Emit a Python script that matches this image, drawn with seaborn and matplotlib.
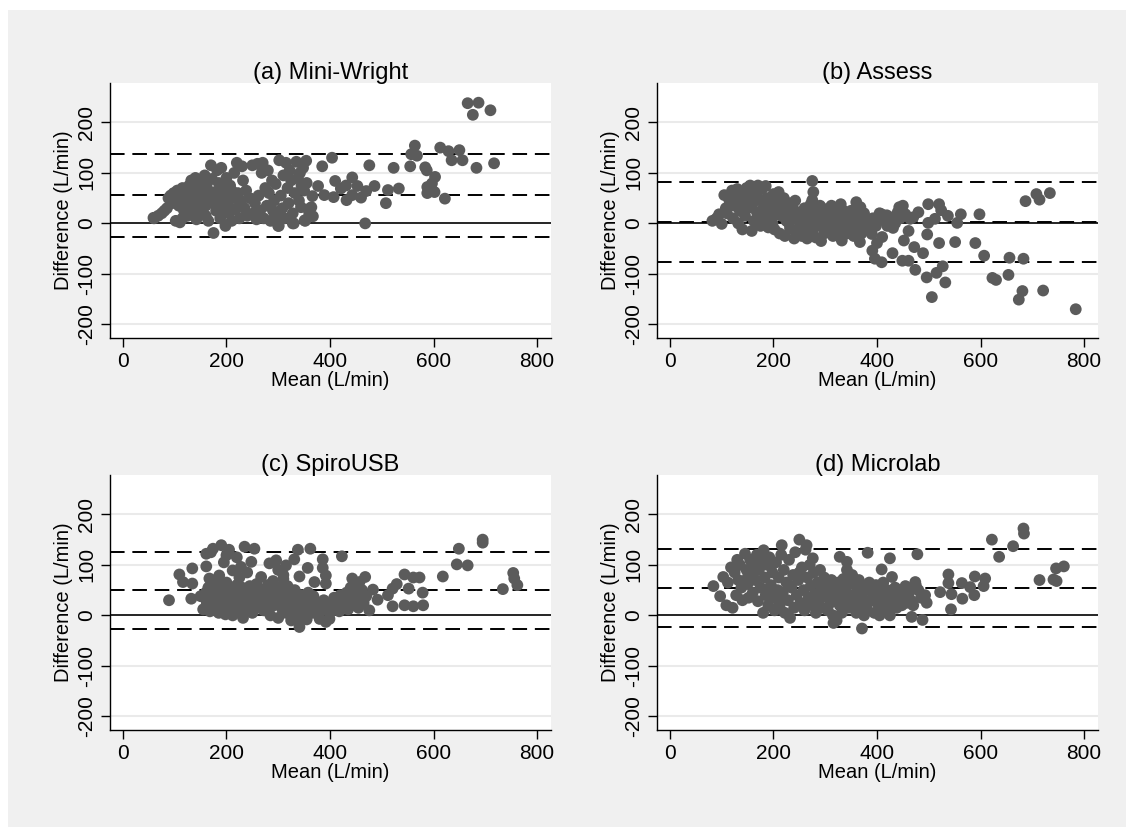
import pandas as pd
import seaborn as sns
import matplotlib
matplotlib.use('Agg')
from matplotlib import pyplot as plt
from matplotlib.patches import Rectangle

titles = ['(a) Mini-Wright', '(b) Assess', '(c) SpiroUSB', '(d) Microlab']

# (mean, difference) pairs
pts_a = [(60, 10), (68, 15), (75, 20), (80, 25), (85, 30), (88, 50), (92, 55), (95, 40), (98, 60), (100, 45),
         (102, 5), (105, 65), (108, 35), (110, 2), (112, 55), (115, 70), (118, 25), (120, 48), (122, 60), (125, 15),
         (128, 75), (130, 40), (132, 85), (135, 55), (138, 30), (140, 90), (142, 8), (145, 65), (148, 45), (150, 80),
         (152, 20), (155, 58), (158, 95), (160, 35), (162, 72), (165, 5), (168, 50), (170, 115), (172, 88), (175, -19),
         (176, 40), (178, 62), (180, 25), (182, 105), (185, 80), (186, 45), (188, 10), (190, 110), (192, 30), (195, 70),
         (197, 55), (198, -5), (200, 90), (202, 35), (205, 20), (207, 75), (210, 5), (212, 50), (215, 100), (218, 28),
         (220, 120), (222, 60), (225, 10), (228, 45), (230, 113), (232, 85), (235, 30), (238, 65), (240, 15), (245, 50),
         (250, 115), (252, 20), (255, 40), (258, 8), (260, 118), (262, 55), (265, 25), (268, 100), (270, 120), (272, 10),
         (275, 70), (278, 35), (280, 105), (282, 60), (285, 5), (288, 85), (290, 25), (292, 45), (295, 78), (298, 15),
         (300, -5), (302, 125), (305, 55), (308, 30), (310, 95), (312, 10), (315, 120), (318, 70), (320, 40), (322, 105),
         (325, 85), (328, 20), (330, 0), (332, 60), (335, 122), (338, 90), (340, 45), (342, 100), (345, 75), (348, 110),
         (350, 65), (352, 5), (355, 80), (358, 28), (360, 18), (130, 20), (145, 30), (160, 15), (175, 60), (185, 25),
         (120, 35), (135, 70), (150, 50), (165, 85), (195, 45), (210, 65), (225, 35), (115, 10), (140, 45), (190, 60),
         (666, 238), (687, 239), (676, 215), (710, 224), (564, 154), (557, 137), (568, 134), (555, 113), (613, 150),
         (629, 143), (650, 145), (635, 125), (656, 125), (683, 110), (717, 119), (584, 111), (587, 105), (603, 92),
         (597, 79), (588, 72), (588, 60), (602, 62), (622, 49), (523, 110), (533, 69), (512, 66), (508, 40), (476, 115),
         (486, 74), (470, 64), (460, 51), (468, 0), (443, 91), (431, 75), (453, 74), (432, 46), (443, 56), (404, 130),
         (385, 113), (377, 74), (389, 56), (410, 84), (407, 52), (421, 69), (366, 54), (354, 124), (367, 14), (351, 6),
         (344, 32), (364, 32), (328, 0), (301, -5), (59, 11)]

pts_b = [(82, 5), (90, 10), (95, 18), (100, -1), (105, 56), (108, 30), (110, 20), (115, 45), (120, 65), (122, 10),
         (125, 35), (128, 55), (130, 68), (132, 0), (135, 25), (138, 62), (140, -12), (142, 45), (145, 15), (148, 70),
         (150, 30), (152, 55), (155, 75), (158, -15), (160, 40), (162, 5), (165, 60), (168, 22), (170, 75), (172, 48),
         (175, -5), (178, 68), (180, 30), (182, 10), (185, 74), (188, 50), (190, -8), (192, 20), (195, 38), (198, 0),
         (200, 58), (202, -12), (205, 28), (208, 45), (210, 62), (212, -20), (215, 15), (218, 35), (220, 50), (222, -25),
         (225, 5), (228, 25), (230, 40), (232, -10), (235, 15), (238, 30), (240, -30), (242, 45), (245, 8), (248, -18),
         (250, 20), (252, 2), (255, -25), (258, 12), (260, 30), (262, -8), (265, -30), (268, 18), (270, 0), (272, 38),
         (275, -15), (278, 25), (280, 8), (282, -28), (285, 15), (288, -5), (290, 35), (292, -35), (295, 10), (298, -20),
         (300, 28), (302, 0), (305, -12), (308, 20), (310, 5), (312, 35), (315, -25), (318, 12), (320, -5), (322, 30),
         (325, 15), (328, -15), (330, 38), (332, 5), (335, 25), (338, -8), (340, 12), (342, -20), (345, 0), (348, 20),
         (350, -12), (352, 8), (355, -25), (358, 28), (362, -5), (365, 15), (370, -20), (372, 2), (375, 20), (378, -10),
         (385, 5), (388, -15), (392, 10), (398, -5), (402, 12), (405, 20), (415, 5), (420, -5), (425, 12), (435, 0),
         (440, 22), (445, 10), (450, 35), (455, 18), (470, 12), (118, 50), (135, 40), (160, 65), (185, 35), (210, 20),
         (230, 0), (250, -10), (270, 15), (290, 20), (310, -15), (330, 10), (350, 25), (240, 10), (200, 15), (170, 5),
         (784, -170), (734, 60), (708, 58), (714, 47), (687, 44), (683, -70), (656, -68), (654, -102), (681, -134),
         (674, -151), (721, -133), (623, -108), (630, -112), (607, -64), (590, -39), (598, 18), (562, 18), (555, 1),
         (551, -37), (537, 15), (520, 38), (524, 26), (512, 9), (499, 38), (499, 1), (497, -22), (520, -39), (527, -85),
         (515, -98), (532, -117), (506, -146), (496, -107), (489, -59), (480, 22), (472, -47), (474, -92), (461, -74),
         (449, -74), (452, -34), (461, -15), (464, 9), (443, 32), (430, -59), (431, -9), (410, -27), (409, -77),
         (396, -70), (391, -54), (400, -39), (390, -21), (409, 18), (419, 16), (380, 7), (367, -37), (360, 42),
         (368, 32), (332, -34), (275, 84), (277, 62), (275, 46)]

pts_c = [(150, 38), (155, 12), (160, 45), (162, 25), (165, 55), (168, 8), (170, 70), (172, 35), (175, 15), (178, 50),
         (180, 28), (182, 62), (185, 5), (188, 40), (190, 20), (192, 55), (195, 32), (198, 2), (200, 65), (202, 45),
         (205, 15), (208, 30), (210, 52), (212, 0), (215, 38), (218, 22), (220, 60), (222, 8), (225, 42), (228, 25),
         (230, 55), (232, -5), (235, 30), (238, 48), (240, 12), (242, 35), (245, 58), (248, 20), (250, 5), (252, 40),
         (255, 28), (258, 62), (260, 15), (262, 45), (265, 30), (268, 22), (270, 50), (272, 10), (275, 38), (278, 25),
         (280, 60), (282, 15), (285, 0), (288, 42), (290, 68), (292, 20), (295, 35), (298, 55), (300, -5), (302, 28),
         (305, 45), (308, 12), (310, 72), (312, 32), (315, 5), (318, 58), (320, 22), (322, 40), (325, -10), (328, 15),
         (330, 35), (332, 50), (335, 0), (338, 25), (340, -15), (342, 10), (345, 40), (348, -5), (350, 20), (352, 30),
         (355, -8), (358, 45), (360, 12), (362, 28), (365, 5), (368, 38), (372, 15), (375, 25), (378, 0), (382, 18),
         (388, 30), (395, 10), (400, 5), (405, 22), (408, 35), (412, 15), (415, 28), (418, 8), (420, 40), (425, 18),
         (428, 30), (432, 45), (435, 12), (438, 25), (440, 55), (442, 35), (445, 60), (448, 20), (452, 42), (455, 15),
         (458, 30), (462, 50), (465, 25), (470, 38), (161, 122), (174, 132), (190, 139), (200, 119), (235, 136),
         (254, 132), (248, 106), (228, 96), (212, 89), (283, 103), (296, 109), (315, 99), (267, 76), (167, 73),
         (186, 79), (161, 97), (170, 125), (195, 105), (220, 115), (240, 85), (205, 130), (225, 75), (300, 90),
         (310, 80), (89, 30), (109, 81), (116, 66), (134, 93), (134, 63), (132, 33), (695, 150), (695, 144), (649, 132),
         (645, 101), (666, 99), (618, 77), (734, 52), (754, 84), (756, 73), (762, 60), (544, 81), (561, 75), (573, 75),
         (579, 45), (552, 53), (580, 20), (561, 18), (544, 20), (521, 18), (529, 62), (521, 53), (512, 40), (492, 31),
         (483, 51), (468, 76), (476, 10), (443, 73), (457, 66), (423, 117), (422, 20), (362, 132), (338, 130),
         (331, 111), (386, 111), (386, 94), (392, 79), (370, 66), (392, 63), (341, 77), (357, 94), (341, -23),
         (392, -13), (399, -7), (380, -7)]

pts_d = [(84, 58), (97, 38), (103, 76), (109, 20), (112, 65), (118, 95), (121, 15), (125, 85), (128, 40), (132, 70),
         (135, 100), (138, 55), (140, 30), (145, 122), (148, 90), (150, 62), (152, 35), (155, 110), (158, 80), (160, 45),
         (162, 100), (165, 70), (168, 120), (170, 28), (172, 90), (175, 55), (178, 110), (180, 5), (181, 129), (183, 75),
         (185, 40), (188, 100), (190, 20), (192, 115), (195, 60), (198, 85), (200, 35), (202, 10), (205, 105), (208, 50),
         (210, 75), (212, 20), (215, 120), (216, 139), (218, 45), (220, 90), (222, 5), (225, 65), (228, 30), (230, 110),
         (232, -5), (235, 55), (238, 80), (240, 15), (242, 125), (245, 40), (248, 70), (250, 150), (252, 25), (255, 95),
         (258, 50), (260, 10), (262, 130), (264, 139), (265, 75), (268, 35), (270, 100), (272, 58), (275, 20), (276, 113),
         (278, 85), (280, 42), (282, 5), (285, 65), (288, 30), (290, 90), (292, 50), (295, 15), (298, 75), (300, 38),
         (302, 60), (305, 10), (308, 48), (310, 25), (312, 70), (315, 0), (318, 55), (320, 35), (322, -10), (325, 65),
         (328, 20), (330, 45), (332, 5), (335, 72), (338, 30), (340, 55), (342, 90), (345, 15), (348, 65), (350, 40),
         (352, 80), (355, 25), (358, 60), (360, 5), (362, 45), (365, 70), (368, 20), (370, 55), (372, 35), (375, 0),
         (378, 50), (380, 15), (385, 65), (388, 30), (392, 45), (395, 5), (398, 60), (400, 25), (402, 40), (405, 0),
         (408, 55), (410, 20), (412, 65), (415, 35), (418, 10), (420, 50), (422, 28), (425, 0), (428, 40), (432, 25),
         (435, 55), (438, 15), (440, 35), (445, 50), (448, 20), (452, 40), (455, 58), (458, 25), (462, 45), (465, 30),
         (470, 20), (475, 60), (480, 50), (485, 35), (130, 110), (150, 75), (170, 95), (190, 45), (210, 30), (230, 60),
         (250, 85), (270, 25), (290, 60), (310, 45),
         (683, 172), (684, 162), (622, 150), (663, 137), (636, 116), (714, 70), (741, 71), (747, 68), (746, 93),
         (761, 97), (589, 77), (609, 73), (606, 58), (588, 40), (580, 56), (564, 64), (565, 33), (538, 81), (538, 64),
         (544, 42), (543, 12), (522, 46), (496, 25), (488, -9), (493, 40), (478, 121), (474, 66), (467, -3), (425, 113),
         (429, 76), (409, 91), (382, 124), (371, -26), (316, -15), (328, 116), (342, 106)]

# limits of agreement: upper, mean, lower
loa = [(138, 56, -26), (82, 2, -77), (125, 50, -26), (132, 55, -23)]

sns.set_theme(style='white')
plt.rcParams['font.family'] = ['Liberation Sans', 'DejaVu Sans']
plt.rcParams['text.color'] = 'black'
plt.rcParams['axes.labelcolor'] = 'black'
plt.rcParams['xtick.color'] = 'black'
plt.rcParams['ytick.color'] = 'black'

fig = plt.figure(figsize=(11.26, 8.27), dpi=100, facecolor='white')
fig.patches.append(Rectangle((8 / 1126, 0), 1, 817 / 827, transform=fig.transFigure,
                             facecolor='#f0f0f0', edgecolor='none', zorder=-10))

boxes = [(110, 83), (657, 83), (110, 475), (657, 475)]
for i, pts in enumerate([pts_a, pts_b, pts_c, pts_d]):
    left, top = boxes[i]
    ax = fig.add_axes([left / 1126, (827 - top - 255) / 827, 441 / 1126, 255 / 827])
    ax.set_facecolor('white')
    df = pd.DataFrame(pts, columns=['mean', 'diff'])

    for g in (-200, -100, 100, 200):
        ax.axhline(g, color='#eaeaea', lw=1.5, zorder=0)
    ax.axhline(0, color='black', lw=1.2, zorder=1)
    for v in loa[i]:
        ax.axhline(v, color='black', lw=1.4, linestyle=(0, (7.5, 4)), zorder=1)

    sns.scatterplot(x='mean', y='diff', data=df, ax=ax, color='#5b5b5b', s=72,
                    edgecolor='none', linewidth=0, zorder=3)

    ax.set_xlim(-25, 827)
    ax.set_ylim(-227, 278)
    ax.set_xticks([0, 200, 400, 600, 800])
    ax.set_yticks([-200, -100, 0, 100, 200])
    ax.set_yticklabels(['-200', '-100', '0', '100', '200'], rotation=90, va='center')
    ax.tick_params(axis='both', labelsize=15, length=6.5, width=1, color='black',
                   labelcolor='black', direction='out', bottom=True, left=True, pad=3.5)
    ax.set_xlabel('Mean (L/min)', fontsize=14.5, labelpad=0, color='black')
    ax.set_ylabel('Difference (L/min)', fontsize=14.5, labelpad=3, color='black')
    ax.set_title(titles[i], fontsize=17, pad=3, color='black')
    for side in ('top', 'right'):
        ax.spines[side].set_visible(False)
    for side in ('left', 'bottom'):
        ax.spines[side].set_color('black')
        ax.spines[side].set_linewidth(1)

fig.savefig('out.png', dpi=100, facecolor=fig.get_facecolor())
